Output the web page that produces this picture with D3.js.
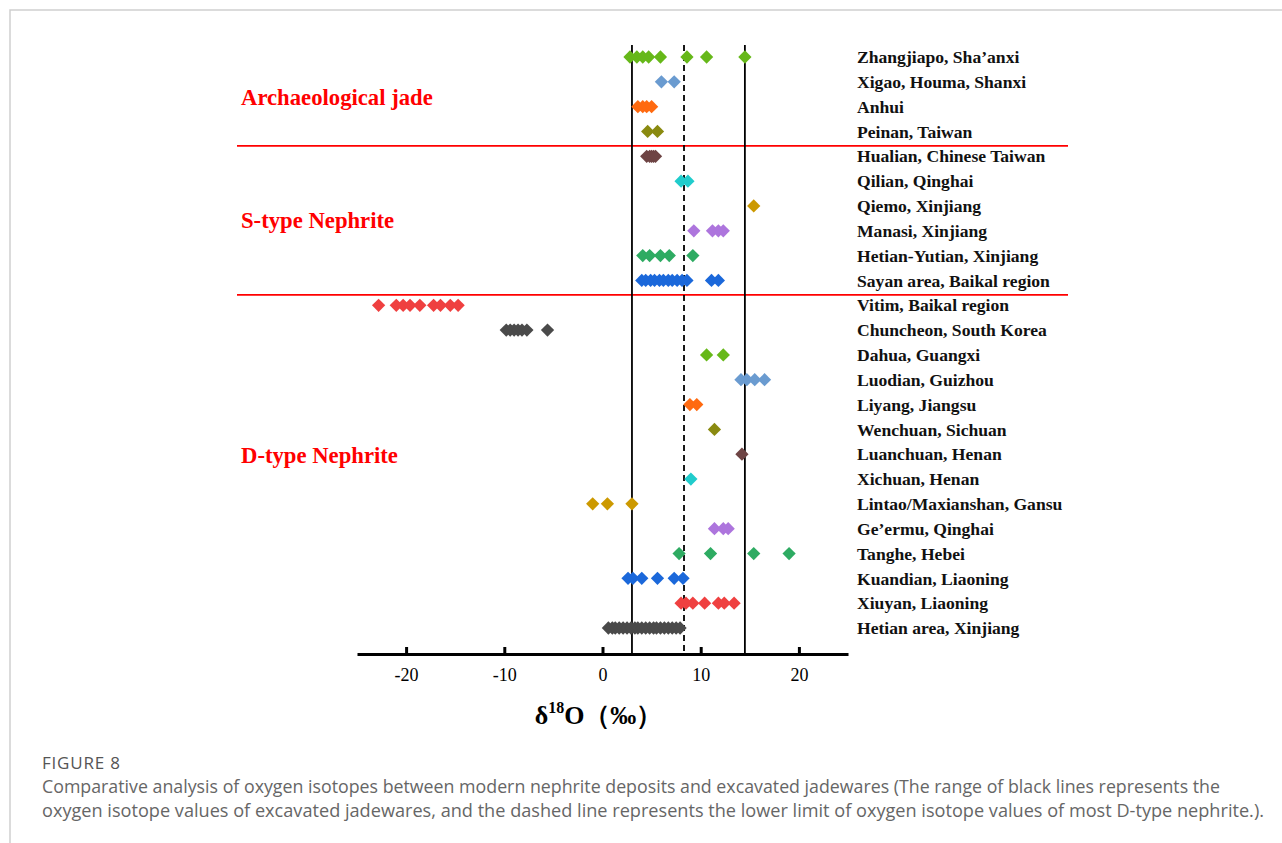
<!DOCTYPE html>
<html>
<head>
<meta charset="utf-8">
<script src="https://cdn.jsdelivr.net/npm/d3@7"></script>
<style>
  html, body { margin: 0; padding: 0; background: #fff; }
  svg { display: block; }
</style>
</head>
<body>
<svg id="chart" width="1282" height="843"></svg>
<script>
// ---------------- DATA ----------------
const locations = [
  "Zhangjiapo, Sha\u2019anxi", "Xigao, Houma, Shanxi", "Anhui", "Peinan, Taiwan",
  "Hualian, Chinese Taiwan", "Qilian, Qinghai", "Qiemo, Xinjiang", "Manasi, Xinjiang",
  "Hetian-Yutian, Xinjiang", "Sayan area, Baikal region",
  "Vitim, Baikal region", "Chuncheon, South Korea", "Dahua, Guangxi", "Luodian, Guizhou",
  "Liyang, Jiangsu", "Wenchuan, Sichuan", "Luanchuan, Henan", "Xichuan, Henan",
  "Lintao/Maxianshan, Gansu", "Ge\u2019ermu, Qinghai", "Tanghe, Hebei", "Kuandian, Liaoning",
  "Xiuyan, Liaoning", "Hetian area, Xinjiang"
];
const groupNames = ["Archaeological jade", "S-type Nephrite", "D-type Nephrite"];
const groupOfRow = [0,0,0,0, 1,1,1,1,1,1, 2,2,2,2,2,2,2,2,2,2,2,2,2,2];
const groupLabelRow = [1.6, 6.55, 16.05];   // row where the group label sits
const separatorsAfterRow = [3, 9];

const rowColors = [
  "#66b819", "#6a9bd0", "#ff6a10", "#8a8a10",
  "#6e4444", "#20cccc", "#cc9900", "#ad75dd", "#2eab62", "#1b68da",
  "#ef4040", "#4a4a4a", "#66b819", "#6a9bd0", "#ff6a10", "#8a8a10",
  "#6e4444", "#20cccc", "#cc9900", "#ad75dd", "#2eab62", "#1b68da",
  "#ef4040", "#4a4a4a"
];

// δ18O values (‰) per location
const delta18O = [
  [2.8, 3.5, 4.1, 4.7, 5.9, 8.6, 10.6, 14.5],
  [6.0, 7.3],
  [3.6, 4.1, 4.5, 5.0],
  [4.6, 5.6],
  [4.5, 4.8, 5.0, 5.2, 5.4],
  [8.0, 8.7],
  [15.4],
  [9.3, 11.2, 11.8, 12.3],
  [4.1, 4.8, 5.9, 6.8, 9.2],
  [4.0, 4.4, 4.9, 5.3, 5.8, 6.2, 6.7, 7.1, 7.6, 8.1, 8.6, 11.1, 11.8],
  [-22.8, -21.0, -20.3, -19.6, -18.6, -17.2, -16.5, -15.5, -14.7],
  [-9.8, -9.4, -9.0, -8.6, -8.2, -7.7, -5.6],
  [10.6, 12.3],
  [14.1, 14.7, 15.5, 16.5],
  [8.9, 9.6],
  [11.4],
  [14.2],
  [9.0],
  [-1.0, 0.5, 3.0],
  [11.4, 12.3, 12.8],
  [7.8, 11.0, 15.4, 19.0],
  [2.6, 3.1, 4.0, 5.6, 7.3, 8.2],
  [8.0, 8.5, 9.2, 10.4, 11.8, 12.4, 13.4],
  [0.6, 1.0, 1.3, 1.7, 2.1, 2.5, 2.9, 3.3, 3.6, 4.0, 4.4, 4.8, 5.2, 5.5, 5.9, 6.3, 6.7, 7.1, 7.5, 7.9]
];

const xTicks = [-20, -10, 0, 10, 20];
const xDomain = [-25, 25];
const jadeRange = [3.0, 14.5];     // solid black lines
const dLowerLimit = 8.3;           // dashed line

const captionTitle = "FIGURE 8";
const captionLines = [
  "Comparative analysis of oxygen isotopes between modern nephrite deposits and excavated jadewares (The range of black lines represents the",
  "oxygen isotope values of excavated jadewares, and the dashed line represents the lower limit of oxygen isotope values of most D-type nephrite.)."
];
const captionWidths = [1178, 1222];

// ---------------- DRAW ----------------
const svg = d3.select("#chart");

// frame
svg.append("path")
  .attr("d", "M10,843 L10,10 L1282,10")
  .attr("fill", "none").attr("stroke", "#cfcfcf").attr("stroke-width", 1.5);

const serif = "'Liberation Serif', 'Times New Roman', serif";
const axisY = 654;

const x = d3.scaleLinear().domain(xDomain).range([357, 848]);
const y = d3.scaleLinear().domain([0, locations.length - 1]).range([57, 628]);

// separators
svg.selectAll("line.sep").data(separatorsAfterRow).enter().append("line")
  .attr("x1", 237).attr("x2", 1068)
  .attr("y1", d => y(d + 0.58)).attr("y2", d => y(d + 0.58))
  .attr("stroke", "#ff0000").attr("stroke-width", 1.6);

// reference lines
const lineTop = 45;
svg.selectAll("line.ref").data(jadeRange).enter().append("line")
  .attr("x1", d => x(d)).attr("x2", d => x(d))
  .attr("y1", lineTop).attr("y2", axisY)
  .attr("stroke", "#000").attr("stroke-width", 1.8);
svg.append("line")
  .attr("x1", x(dLowerLimit)).attr("x2", x(dLowerLimit))
  .attr("y1", lineTop).attr("y2", axisY)
  .attr("stroke", "#000").attr("stroke-width", 1.8)
  .attr("stroke-dasharray", "6,4");

// markers
const diamond = d3.symbol().type(d3.symbolSquare).size(88);
const pts = [];
delta18O.forEach((vals, i) => vals.forEach(v => pts.push({ row: i, v })));
svg.append("g").selectAll("path").data(pts).enter().append("path")
  .attr("d", diamond)
  .attr("transform", d => `translate(${x(d.v)},${y(d.row)}) rotate(45)`)
  .attr("fill", d => rowColors[d.row]);

// axis
const xAxis = d3.axisBottom(x).tickValues(xTicks).tickSizeInner(-7).tickSizeOuter(0).tickPadding(14)
  .tickFormat(d3.format("d"));
const gAxis = svg.append("g").attr("transform", `translate(0,${axisY})`).call(xAxis);
gAxis.select(".domain").attr("stroke", "#000").attr("stroke-width", 3);
gAxis.selectAll(".tick line").attr("stroke", "#000").attr("stroke-width", 3);
gAxis.selectAll(".tick text").attr("font-family", serif).attr("font-size", 18).attr("fill", "#000")
  .text(d => d < 0 ? "-" + Math.abs(d) : d);

// axis title
const title = svg.append("text")
  .attr("x", x(0) - 4).attr("y", 724)
  .attr("text-anchor", "middle")
  .attr("font-family", serif).attr("font-weight", "bold").attr("font-size", 26).attr("fill", "#000");
title.append("tspan").text("\u03b4");
title.append("tspan").attr("font-size", 16).attr("dy", -11).text("18");
title.append("tspan").attr("dy", 11).text("O\uff08\u2030\uff09");

// row labels
svg.append("g").selectAll("text").data(locations).enter().append("text")
  .attr("x", 857).attr("y", (d, i) => y(i))
  .attr("dy", "0.35em")
  .attr("font-family", serif).attr("font-weight", "bold").attr("font-size", 17.6).attr("fill", "#111")
  .text(d => d);

// group labels
svg.append("g").selectAll("text").data(groupNames).enter().append("text")
  .attr("x", 241).attr("y", (d, i) => y(groupLabelRow[i]))
  .attr("dy", "0.35em")
  .attr("font-family", serif).attr("font-weight", "bold").attr("font-size", 22.7).attr("fill", "#ff0000")
  .text(d => d);

// caption
const sans = "'Open Sans', 'Noto Sans', sans-serif";
svg.append("text").attr("x", 42).attr("y", 769)
  .attr("font-family", sans).attr("font-size", 17).attr("letter-spacing", 0.8).attr("fill", "#555").text(captionTitle);
svg.selectAll("text.cap").data(captionLines).enter().append("text")
  .attr("x", 42).attr("y", (d, i) => 793 + i * 23.5)
  .attr("font-family", sans).attr("font-size", 17.5).attr("fill", "#666")
  .attr("textLength", (d, i) => captionWidths[i]).attr("lengthAdjust", "spacingAndGlyphs")
  .text(d => d);
</script>
</body>
</html>
